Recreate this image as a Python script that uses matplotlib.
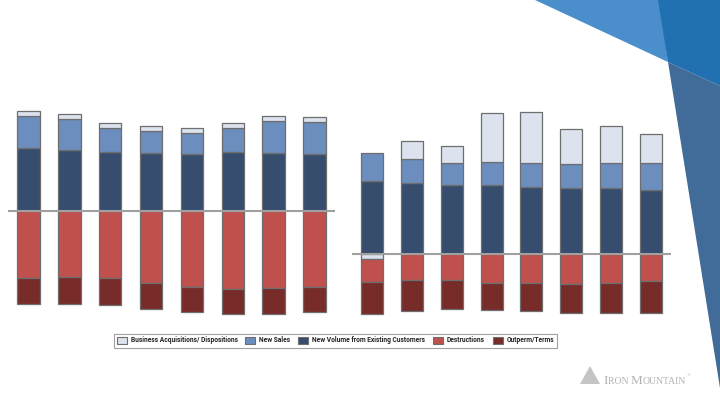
import matplotlib
matplotlib.use("Agg")
import matplotlib.pyplot as plt
import numpy as np
from matplotlib.patches import Patch, Polygon

# ---------------- data (arbitrary units) ----------------
series = ["Business Acquisitions/ Dispositions", "New Sales",
          "New Volume from Existing Customers", "Destructions", "Outperm/Terms"]

left_ba = [5, 4.5, 5, 5, 5, 5, 5, 5]
left_ns = [32, 31.5, 24, 22, 21, 24.5, 32.5, 32.5]
left_nvec = [62.7, 61, 58.7, 57.7, 56.7, 58.7, 57.7, 56.7]
left_destr = [-67.3, -66, -67.3, -72.3, -76, -78.3, -77.3, -76.3]
left_outp = [-25.7, -26.7, -26.3, -26, -25, -25, -25.7, -24.7]

right_ba = [-5.7, 17.7, 17, 48.7, 50.7, 35, 37.7, 28.7]
right_ns = [27.7, 24.7, 22.7, 22.7, 23.7, 24, 25, 27.3]
right_nvec = [72.7, 70.3, 68.3, 69, 67, 65.3, 65.3, 63.7]
right_destr = [-22.3, -26.7, -26.7, -29.3, -29.3, -30, -29.3, -27.3]
right_outp = [-32.7, -30.3, -28.3, -27, -28.3, -29, -30.3, -31.7]

colors = {"ba": "#dce3ee", "ns": "#6c8ebf", "nvec": "#364d6e",
          "destr": "#c0504d", "outp": "#772c2a"}
edge = "#6e6e6e"

W, H = 720, 405
fig = plt.figure(figsize=(7.2, 4.05), dpi=100)
fig.patch.set_facecolor("white")

# ---------------- background decoration ----------------
bg = fig.add_axes([0, 0, 1, 1], zorder=0)
bg.set_xlim(0, W)
bg.set_ylim(H, 0)
bg.axis("off")
bg.add_patch(Polygon([(535, 0), (660, 0), (668, 62)], closed=True,
                     facecolor="#4a8fcc", edgecolor="none"))
bg.add_patch(Polygon([(658, 0), (720, 0), (720, 86), (668, 62)], closed=True,
                     facecolor="#2070b2", edgecolor="none"))
bg.add_patch(Polygon([(668, 62), (720, 86), (720, 388)], closed=True,
                     facecolor="#416b98", edgecolor="none"))
# logo
bg.add_patch(Polygon([(580, 384), (590, 366), (600, 384)], closed=True,
                     facecolor="#c4c4c4", edgecolor="none"))
renderer = fig.canvas.get_renderer()
xcur = 603.0
for txt, size in [("I", 9.5), ("RON ", 7), ("M", 9.5), ("OUNTAIN", 7)]:
    t = bg.text(xcur, 383.5, txt, fontsize=size, family="Liberation Serif",
                color="#b3b3b3", va="baseline", ha="left")
    bb = t.get_window_extent(renderer=renderer)
    xcur += bb.width * W / fig.bbox.width
bg.text(xcur + 0.5, 376, "®", fontsize=3, family="DejaVu Sans", color="#b3b3b3",
        va="baseline", ha="left")


def pix_axes(x0, x1, y0, y1):
    return fig.add_axes([x0 / W, 1 - y1 / H, (x1 - x0) / W, (y1 - y0) / H], zorder=2)


def draw_chart(ax, ba, ns, nvec, destr, outp, zero_px, top_px, bottom_px):
    n = len(ns)
    x = np.arange(n)
    pos = np.zeros(n)
    neg = np.zeros(n)
    for key, vals in [("nvec", nvec), ("ns", ns), ("ba", ba), ("destr", destr), ("outp", outp)]:
        vals = np.asarray(vals, dtype=float)
        bottoms = np.where(vals >= 0, pos, neg)
        ax.bar(x, vals, bottom=bottoms, width=0.55, color=colors[key],
               edgecolor=edge, linewidth=0.9, zorder=2)
        pos = pos + np.where(vals >= 0, vals, 0)
        neg = neg + np.where(vals < 0, vals, 0)
    ax.axhline(0, color="#a0a0a0", linewidth=1.5, zorder=3)
    ax.set_xlim(-0.5, n - 0.5)
    ax.set_ylim(-(bottom_px - zero_px), zero_px - top_px)
    ax.axis("off")
    ax.patch.set_alpha(0)


axL = pix_axes(8, 335, 100, 320)
draw_chart(axL, left_ba, left_ns, left_nvec, left_destr, left_outp, 211, 100, 320)

axR = pix_axes(352, 671, 100, 320)
draw_chart(axR, right_ba, right_ns, right_nvec, right_destr, right_outp, 253.7, 100, 320)

# ---------------- legend ----------------
handles = [Patch(facecolor=colors[k], edgecolor=edge, linewidth=0.8)
           for k in ["ba", "ns", "nvec", "destr", "outp"]]
leg = fig.legend(handles, series, loc="center", bbox_to_anchor=(335.5 / W, 1 - 340.5 / H),
                 ncol=5, frameon=True, fancybox=False,
                 prop={"weight": "bold", "size": 4.8, "family": "Roboto"},
                 handlelength=1.5, handleheight=1.35, columnspacing=1.15,
                 handletextpad=0.6, borderpad=0.45, borderaxespad=0)
leg.get_frame().set_edgecolor("#8a8a8a")
leg.get_frame().set_linewidth(0.8)
for t in leg.get_texts():
    t.set_color("#222222")

fig.savefig("out.png", dpi=100)
